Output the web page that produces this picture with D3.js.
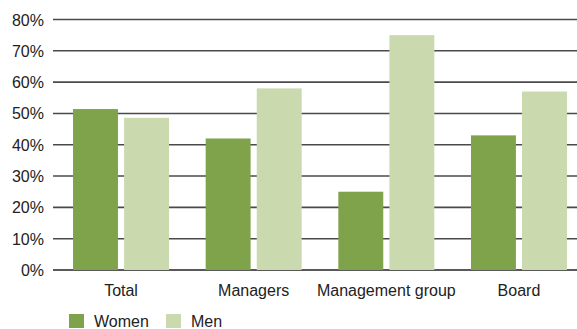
<!DOCTYPE html>
<html>
<head>
<meta charset="utf-8">
<script src="https://cdn.jsdelivr.net/npm/d3@7"></script>
<style>
  body { margin: 0; background: #fff; }
  text { font-family: "Liberation Sans", Arial, sans-serif; fill: #222; }
</style>
</head>
<body>
<div id="chart"></div>
<script>
const categories = ['Total', 'Managers', 'Management group', 'Board'];
const series = ['Women', 'Men'];
const women = [51.4, 42, 25, 43];
const men = [48.6, 58, 75, 57];
const yTicks = [0, 10, 20, 30, 40, 50, 60, 70, 80];
const colors = { Women: '#7fa34b', Men: '#cbd9ae' };

const width = 577;
const height = 329;

const svg = d3.select('#chart')
  .append('svg')
  .attr('width', width)
  .attr('height', height);

const xScale = d3.scaleBand()
  .domain(categories)
  .range([54.7, 585.3]);

const inner = d3.scaleBand()
  .domain(series)
  .range([0, 96])
  .paddingInner(0.12);

const yScale = d3.scaleLinear()
  .domain([0, 80])
  .range([270, 19.5]);

// gridlines
svg.append('g')
  .selectAll('line')
  .data(yTicks)
  .enter()
  .append('line')
  .attr('x1', 53)
  .attr('x2', width)
  .attr('y1', d => yScale(d))
  .attr('y2', d => yScale(d))
  .attr('stroke', d => d === 0 ? '#222' : '#4a4a4a')
  .attr('stroke-width', 1.6);

// y labels
svg.append('g')
  .selectAll('text')
  .data(yTicks)
  .enter()
  .append('text')
  .attr('x', 44)
  .attr('y', d => yScale(d) + 6)
  .attr('text-anchor', 'end')
  .style('font-size', '16px')
  .text(d => d + '%');

const rows = categories.map((c, i) => ({ cat: c, Women: women[i], Men: men[i] }));

const groups = svg.append('g')
  .selectAll('g')
  .data(rows)
  .enter()
  .append('g')
  .attr('transform', d => `translate(${xScale(d.cat) + xScale.bandwidth() / 2 - 48}, 0)`);

groups.selectAll('rect')
  .data(d => series.map(s => ({ key: s, value: d[s] })))
  .enter()
  .append('rect')
  .attr('x', d => inner(d.key))
  .attr('width', inner.bandwidth())
  .attr('y', d => yScale(d.value))
  .attr('height', d => yScale(0) - yScale(d.value))
  .attr('fill', d => colors[d.key]);

// category labels
svg.append('g')
  .selectAll('text')
  .data(categories)
  .enter()
  .append('text')
  .attr('x', d => xScale(d) + xScale.bandwidth() / 2)
  .attr('y', 296)
  .attr('text-anchor', 'middle')
  .style('font-size', '16px')
  .text(d => d);

// legend
const legendX = [69, 166];
const legend = svg.append('g')
  .selectAll('g')
  .data(series)
  .enter()
  .append('g')
  .attr('transform', (d, i) => `translate(${legendX[i]}, 314)`);

legend.append('rect')
  .attr('width', 15)
  .attr('height', 14)
  .attr('fill', d => colors[d]);

legend.append('text')
  .attr('x', 25)
  .attr('y', 13)
  .style('font-size', '16px')
  .text(d => d);
</script>
</body>
</html>
